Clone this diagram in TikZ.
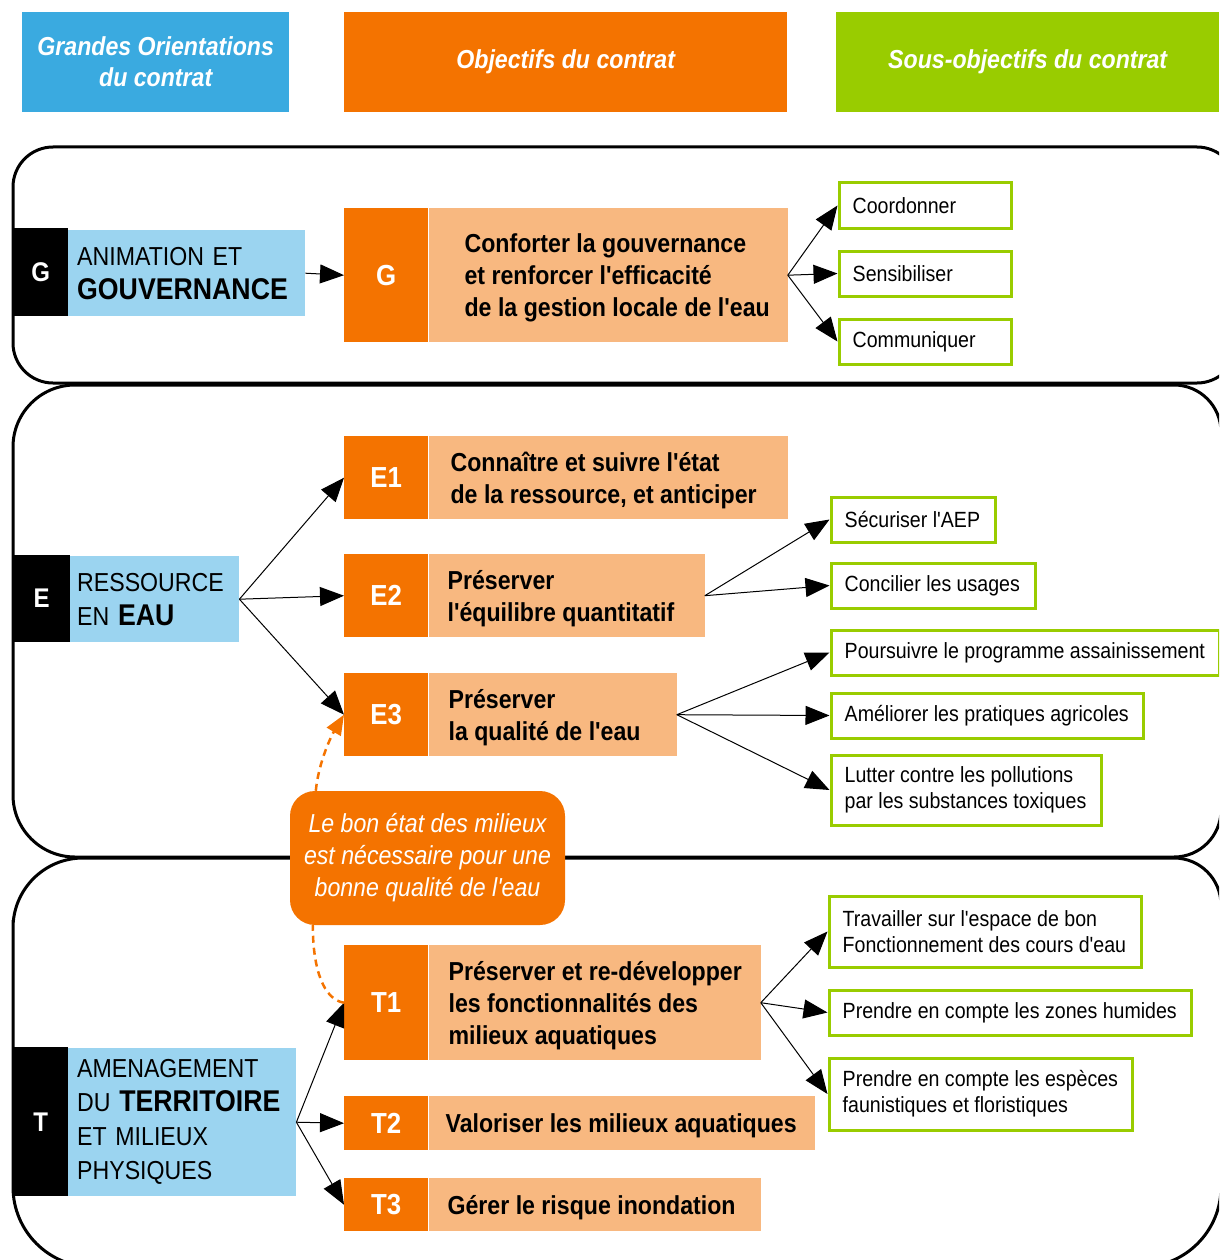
\documentclass[tikz,border=0pt]{standalone}
\usepackage{fontspec}
\setmainfont{Liberation Sans}[FakeStretch=0.89, Ligatures=TeXOff]
\usepackage{tikz}
\usetikzlibrary{arrows.meta,positioning}

\definecolor{headblue}{RGB}{58,170,224}
\definecolor{lightblue}{RGB}{155,212,240}
\definecolor{objorange}{RGB}{244,115,0}
\definecolor{peach}{RGB}{248,184,128}
\definecolor{subgreen}{RGB}{153,204,0}

\newcommand{\hdrfont}{\fontsize{26}{31}\selectfont\bfseries\itshape}
\newcommand{\tagfont}{\fontsize{27}{32}\selectfont\bfseries}
\newcommand{\orfont}{\fontsize{26}{34}\selectfont}
\newcommand{\orbig}{\fontsize{30}{34}\selectfont\bfseries}
\newcommand{\numfont}{\fontsize{29}{34}\selectfont\bfseries}
\newcommand{\objfont}{\fontsize{26}{32}\selectfont\bfseries}
\newcommand{\subtxtfont}{\fontsize{22}{26}\selectfont}
\newcommand{\notefont}{\fontsize{26}{32}\selectfont\itshape}

\tikzset{
  ctframe/.style={line width=3pt},
  hdr/.style={anchor=north west, text=white, font=\hdrfont, align=center, inner sep=0pt, minimum height=100pt},
  tagbox/.style={anchor=north west, fill=black, text=white, font=\tagfont, inner sep=0pt},
  orbox/.style={anchor=north west, fill=lightblue, align=left, font=\orfont, inner ysep=0pt},
  numbox/.style={anchor=north west, fill=objorange, text=white, font=\numfont, inner sep=0pt, minimum width=84pt, minimum height=#1},
  objbox/.style={fill=peach, inner sep=0pt, minimum height=#1},
  objtext/.style={anchor=west, align=left, font=\objfont, inner sep=0pt, yshift=-3pt},
  subbox/.style={anchor=north west, draw=subgreen, line width=3pt, fill=white, inner sep=0pt},
  subtext/.style={anchor=west, align=left, font=\subtxtfont, inner sep=0pt},
  link/.style={line width=1pt, -{Triangle[length=24pt,width=19pt]}},
  note/.style={fill=objorange, text=white, rounded corners=25pt, font=\notefont, align=center, minimum width=275pt, minimum height=134pt},
  noteline/.style={objorange, line width=2.5pt, dash pattern=on 7pt off 5pt, -{Triangle[length=20pt,width=16pt]}}
}

\begin{document}
\begin{tikzpicture}[x=1pt,y=-1pt]
  \useasboundingbox (0,0) rectangle (1219,1260);
  \clip (0,0) rectangle (1219,1260);

  % column headers
  \node[hdr, fill=headblue, minimum width=267pt] (hgo) at (22,12) {Grandes Orientations\\du contrat};
  \node[hdr, fill=objorange, minimum width=443pt] (hobj) at (344,12) {Objectifs du contrat};
  \node[hdr, fill=subgreen, minimum width=383pt] (hsub) at (836,12) {Sous-objectifs du contrat};

  % draw frames
  \draw[ctframe, rounded corners=40pt] (13,147) rectangle (1237,383);
  \draw[ctframe] (13,620) [rounded corners=62pt] |- (600,385) [rounded corners=47pt] -| (1221,620)
    |- (600,857) [rounded corners=62pt] -| (13,620) -- cycle;
  \draw[ctframe] (13,1000) [rounded corners=70pt] |- (600,858) [rounded corners=47pt] -| (1221,1000)
    [rounded corners=80pt] |- (600,1267) -| (13,1000) -- cycle;

  % G : gouvernance
  \node[tagbox, minimum width=55pt, minimum height=88pt] (Gtag) at (13,228) {G};
  \node[orbox, inner xsep=9pt, text width=219pt, minimum height=86pt] (Gor) at (68,230) {ANIMATION ET\\{\orbig GOUVERNANCE}};
  \node[numbox=134pt] (G) at (344,208) {G};
  \node[objbox=134pt, minimum width=359pt, right=0pt of G] (Gobj) {};
  \node[objtext] (Gtxt) at ([xshift=36pt]Gobj.west) {Conforter la gouvernance\\et renforcer l'efficacité\\de la gestion locale de l'eau};
  \node[subbox, minimum width=172pt, minimum height=45pt] (coord) at (837.5,181.5) {};
  \node[subtext] (coordtxt) at ([xshift=15pt]coord.west) {Coordonner};
  \node[subbox, minimum width=172pt, minimum height=45pt] (sensi) at (837.5,249.5) {};
  \node[subtext] (sensitxt) at ([xshift=15pt]sensi.west) {Sensibiliser};
  \node[subbox, minimum width=172pt, minimum height=45pt] (commu) at (837.5,317.5) {};
  \node[subtext] (commutxt) at ([xshift=15pt]commu.west) {Communiquer};

  % E : ressource en eau
  \node[tagbox, minimum width=57pt, minimum height=87pt] (Etag) at (13,555) {E};
  \node[orbox, inner xsep=7pt, text width=155pt, minimum height=86pt] (Eor) at (70,556) {RESSOURCE\\EN {\orbig EAU}};
  \node[numbox=83pt] (E1) at (344,436) {E1};
  \node[objbox=83pt, minimum width=359pt, right=0pt of E1] (E1obj) {};
  \node[objtext] (E1txt) at ([xshift=22pt]E1obj.west) {Connaître et suivre l'état\\de la ressource, et anticiper};
  \node[numbox=83pt] (E2) at (344,554) {E2};
  \node[objbox=83pt, minimum width=276pt, right=0pt of E2] (E2obj) {};
  \node[objtext] (E2txt) at ([xshift=19pt]E2obj.west) {Préserver\\l'équilibre quantitatif};
  \node[numbox=83pt] (E3) at (344,673) {E3};
  \node[objbox=83pt, minimum width=248pt, right=0pt of E3] (E3obj) {};
  \node[objtext] (E3txt) at ([xshift=20pt]E3obj.west) {Préserver\\la qualité de l'eau};
  \node[subbox, minimum width=164pt, minimum height=45pt] (secu) at (829.5,495.5) {};
  \node[subtext] (secutxt) at ([xshift=15pt]secu.west) {Sécuriser l'AEP};
  \node[subbox, minimum width=204pt, minimum height=45pt] (conci) at (829.5,561.5) {};
  \node[subtext] (concitxt) at ([xshift=15pt]conci.west) {Concilier les usages};
  \node[subbox, minimum width=388pt, minimum height=45pt] (pours) at (829.5,628.5) {};
  \node[subtext] (hourstxt) at ([xshift=15pt]pours.west) {Poursuivre le programme assainissement};
  \node[subbox, minimum width=312pt, minimum height=45pt] (amelio) at (829.5,691.5) {};
  \node[subtext] (ameliotxt) at ([xshift=15pt]amelio.west) {Améliorer les pratiques agricoles};
  \node[subbox, minimum width=270pt, minimum height=70pt] (lutte) at (829.5,753.5) {};
  \node[subtext] (luttetxt) at ([xshift=15pt]lutte.west) {Lutter contre les pollutions\\par les substances toxiques};

  % T : amenagement du territoire
  \node[tagbox, minimum width=55pt, minimum height=149pt] (Ttag) at (13,1047) {T};
  \node[orbox, inner xsep=9pt, text width=210pt, minimum height=148pt] (Tor) at (68,1048) {AMENAGEMENT\\DU {\orbig TERRITOIRE}\\ET MILIEUX\\PHYSIQUES};
  \node[numbox=115pt] (T1) at (344,945) {T1};
  \node[objbox=115pt, minimum width=332pt, right=0pt of T1] (T1obj) {};
  \node[objtext] (T1txt) at ([xshift=20pt]T1obj.west) {Préserver et re-développer\\les fonctionnalités des\\milieux aquatiques};
  \node[numbox=54pt] (T2) at (344,1096) {T2};
  \node[objbox=54pt, minimum width=386pt, right=0pt of T2] (T2obj) {};
  \node[objtext] (T2txt) at ([xshift=17pt]T2obj.west) {Valoriser les milieux aquatiques};
  \node[numbox=53pt] (T3) at (344,1178) {T3};
  \node[objbox=53pt, minimum width=332pt, right=0pt of T3] (T3obj) {};
  \node[objtext] (T3txt) at ([xshift=19pt]T3obj.west) {Gérer le risque inondation};
  \node[subbox, minimum width=312pt, minimum height=71pt] (travail) at (827.5,894.5) {};
  \node[subtext] (travailtxt) at ([xshift=15pt]travail.west) {Travailler sur l'espace de bon\\Fonctionnement des cours d'eau};
  \node[subbox, minimum width=362pt, minimum height=45pt] (zones) at (827.5,988.5) {};
  \node[subtext] (zonestxt) at ([xshift=15pt]zones.west) {Prendre en compte les zones humides};
  \node[subbox, minimum width=303pt, minimum height=72pt] (especes) at (827.5,1056.5) {};
  \node[subtext] (especestxt) at ([xshift=15pt]especes.west) {Prendre en compte les espèces\\faunistiques et floristiques};

  % draw arrows
  \draw[link] (Gor.east) -- (G.west);
  \foreach \s in {coord,sensi,commu}
    \draw[link] (Gobj.east) -- (\s.west);
  \foreach \o in {E1,E2,E3}
    \draw[link] (Eor.east) -- (\o.west);
  \foreach \s in {secu,conci}
    \draw[link] (E2obj.east) -- (\s.west);
  \foreach \s in {pours,amelio,lutte}
    \draw[link] (E3obj.east) -- (\s.west);
  \foreach \o in {T1,T2,T3}
    \draw[link] (Tor.east) -- (\o.west);
  \foreach \s in {travail,zones,especes}
    \draw[link] (T1obj.east) -- (\s.west);

  % note between E3 and T1
  \node[note] (note) at (427.5,858) {Le bon état des milieux\\est nécessaire pour une\\bonne qualité de l'eau};
  \draw[noteline] (T1.west) .. controls +(-20,-3) and +(0,45) .. ([xshift=23pt]note.south west)
    ([xshift=26pt]note.north west) .. controls +(3,-30) and +(-12,20) .. (E3.west);
\end{tikzpicture}
\end{document}
